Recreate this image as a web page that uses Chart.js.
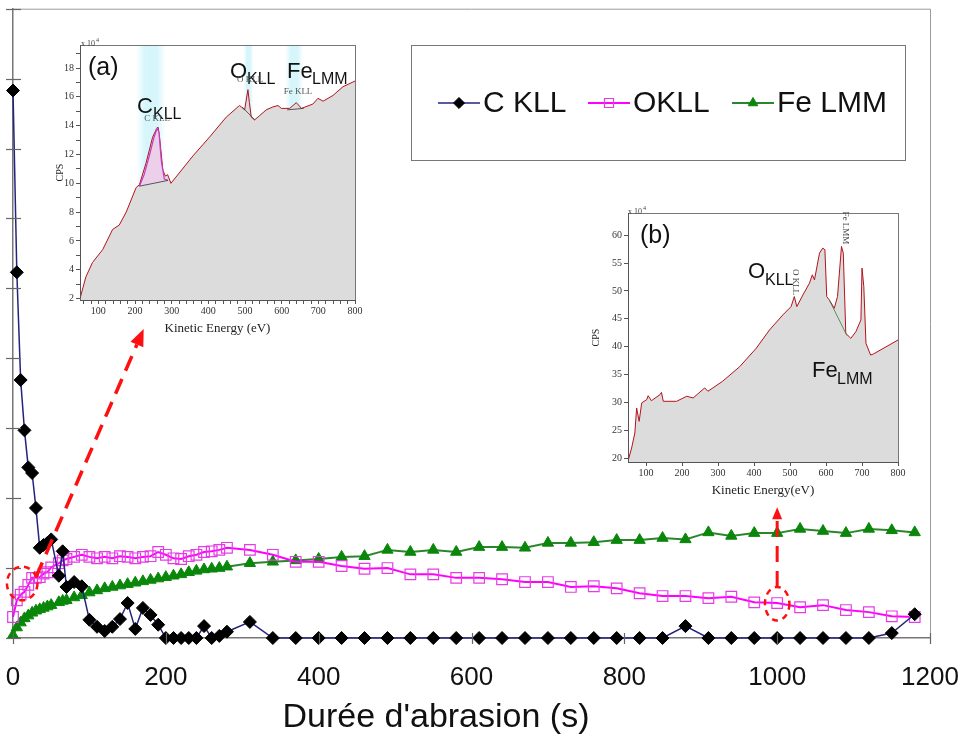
<!DOCTYPE html>
<html>
<head>
<meta charset="utf-8">
<script src="https://cdn.jsdelivr.net/npm/chart.js@4.4.0/dist/chart.umd.min.js"></script>
<style>
    html, body { margin: 0; padding: 0; background: #fff; }
    #cadre { position: relative; width: 958px; height: 744px; }
    #cadre canvas { position: absolute; }
</style>
</head>
<body>
<div id="cadre">
    <canvas id="principal" width="958" height="744" style="left:0;top:0"></canvas>
    <canvas id="encartA" width="310" height="306" style="left:54px;top:30px"></canvas>
    <canvas id="encartB" width="318" height="300" style="left:590px;top:198px"></canvas>
</div>
<script>
// ========== DONNÉES ==========
// temps d'abrasion (s), commun aux trois séries
const temps = [0, 5, 10, 15, 20, 25, 30, 35, 40, 45, 50, 60, 65, 70,
    80, 90, 100, 110, 120, 130, 140, 150, 160, 170, 180, 190, 200, 210, 220, 230, 240, 250, 260, 270, 280,
    310, 340, 370, 400, 430, 460, 490, 520, 550, 580, 610, 640, 670, 700, 730, 760, 790, 820, 850, 880,
    910, 940, 970, 1000, 1030, 1060, 1090, 1120, 1150, 1180];

const cKLL = [7.83, 5.23, 3.69, 2.97, 2.44, 2.36, 1.86, 1.29, 1.33, 1.36, 1.41, 0.89, 1.24, 0.73,
    0.80, 0.74, 0.26, 0.16, 0.10, 0.16, 0.27, 0.50, 0.13, 0.43, 0.33, 0.19, 0, 0, 0, 0, 0, 0.17, 0, 0.03, 0.09,
    0.23, 0, 0, 0, 0, 0, 0, 0, 0, 0, 0, 0, 0, 0, 0, 0, 0, 0, 0, 0.17,
    0, 0, 0, 0, 0, 0, 0, 0, 0.07, 0.34];

const oKLL = [0.30, 0.54, 0.62, 0.66, 0.76, 0.86, 0.86, 0.87, 0.92, 0.94, 1.01, 1.07, 1.11, 1.13,
    1.16, 1.19, 1.16, 1.14, 1.16, 1.14, 1.17, 1.16, 1.14, 1.16, 1.17, 1.23, 1.19, 1.14, 1.13, 1.17, 1.19, 1.23, 1.24, 1.26, 1.29,
    1.26, 1.19, 1.09, 1.09, 1.03, 0.99, 1.00, 0.91, 0.91, 0.86, 0.86, 0.84, 0.80, 0.80, 0.73, 0.74, 0.71, 0.64, 0.60, 0.60,
    0.57, 0.59, 0.51, 0.50, 0.44, 0.47, 0.40, 0.37, 0.31, 0.30];

const feLMM = [0.04, 0.15, 0.22, 0.28, 0.32, 0.36, 0.39, 0.41, 0.43, 0.45, 0.47, 0.51, 0.53, 0.54,
    0.58, 0.61, 0.65, 0.68, 0.71, 0.73, 0.75, 0.77, 0.79, 0.81, 0.83, 0.85, 0.87, 0.89, 0.91, 0.94, 0.96, 0.98, 0.99, 1.00, 1.02,
    1.07, 1.09, 1.11, 1.13, 1.16, 1.17, 1.26, 1.23, 1.26, 1.23, 1.30, 1.30, 1.29, 1.36, 1.36, 1.37, 1.40, 1.40, 1.43, 1.41,
    1.51, 1.46, 1.50, 1.50, 1.56, 1.53, 1.50, 1.56, 1.54, 1.51];

const graduationsX = [0, 200, 400, 600, 800, 1000, 1200];
const graduationsY = [0, 1, 2, 3, 4, 5, 6, 7, 8, 9];
const titreX = "Durée d'abrasion (s)";

// spectre (a) : énergie cinétique (eV) / CPS (x 10^4)
const energieA = [50, 66, 84, 112, 139, 157, 176, 203, 212, 230, 248, 259, 263, 267, 276, 283, 289, 298, 358, 403,
    449, 485, 490, 499, 508, 512, 517, 526, 540, 558, 576, 590, 599, 622, 640, 654, 685, 699, 713, 740, 767, 800];
const cpsA = [2.0, 3.5, 4.5, 5.4, 6.8, 7.1, 8.0, 9.7, 9.9, 11.4, 13.2, 13.8, 13.9, 13.2, 10.9, 10.5, 10.6, 10.0, 11.9, 13.2,
    14.6, 15.4, 15.3, 15.1, 16.5, 15.6, 14.6, 14.4, 14.7, 15.1, 15.3, 15.4, 15.2, 15.2, 15.6, 15.2, 15.5, 15.9, 15.7, 16.1, 16.7, 17.1];
const picCA_E = [212, 225, 240, 252, 260, 265, 272, 280, 290];
const picCA_I = [9.8, 10.6, 12.0, 13.2, 13.8, 13.6, 11.5, 10.3, 10.2];
const fondCA_E = [212, 290];
const fondCA_I = [9.8, 10.2];
const fondOA_E = [492, 527];
const fondOA_I = [15.3, 14.4];
const fondFeA_E = [615, 660];
const fondFeA_I = [15.1, 15.2];
const ticksXA = [60, 80, 100, 120, 140, 160, 180, 200, 220, 240, 260, 280, 300, 320, 340, 360, 380, 400,
    420, 440, 460, 480, 500, 520, 540, 560, 580, 600, 620, 640, 660, 680, 700, 720, 740, 760, 780, 800];
const ticksYA = [2, 3, 4, 5, 6, 7, 8, 9, 10, 11, 12, 13, 14, 15, 16, 17, 18, 19];

// spectre (b)
const energieB = [51, 60, 69, 74, 81, 88, 102, 106, 115, 139, 143, 148, 185, 213, 231, 263, 272, 313, 360, 406,
    443, 480, 503, 512, 519, 536, 554, 562, 568, 582, 591, 597, 602, 609, 623, 632, 643, 648, 655, 669,
    683, 697, 700, 705, 711, 724, 732, 800];
const cpsB = [19.7, 21.8, 24.5, 29.0, 26.6, 29.9, 30.5, 31.2, 30.3, 31.4, 31.8, 30.2, 30.2, 31.1, 30.8, 32.6, 32.0, 33.8, 36.4, 39.7,
    43.0, 45.7, 47.2, 49.0, 47.2, 49.3, 51.4, 52.9, 52.0, 56.8, 57.7, 57.4, 49.0, 48.4, 46.9, 49.0, 58.0, 56.8, 42.4, 41.5,
    42.7, 44.8, 54.1, 50.8, 40.6, 38.5, 38.7, 41.2];
const fondFeB_E = [609, 658];
const fondFeB_I = [48.4, 42.0];
const ticksXB = [100, 200, 300, 400, 500, 600, 700, 800];
const ticksYB = [20, 25, 30, 35, 40, 45, 50, 55, 60];

const pts = (xs, ys) => xs.map((x, i) => ({ x, y: ys[i] }));

const POLICE = '"Liberation Sans", Arial, sans-serif';
const SERIF = '"Liberation Serif", "Times New Roman", serif';

// ========== GRAPHIQUE PRINCIPAL ==========
function fleche(ctx, x1, y1, x2, y2, tete, demi) {
    const ang = Math.atan2(y2 - y1, x2 - x1);
    const bx = x2 - Math.cos(ang) * tete, by = y2 - Math.sin(ang) * tete;
    ctx.setLineDash([16, 9]);
    ctx.beginPath(); ctx.moveTo(x1, y1); ctx.lineTo(bx, by); ctx.stroke();
    ctx.setLineDash([]);
    ctx.beginPath();
    ctx.moveTo(x2, y2);
    ctx.lineTo(bx + demi * Math.sin(ang), by - demi * Math.cos(ang));
    ctx.lineTo(bx - demi * Math.sin(ang), by + demi * Math.cos(ang));
    ctx.closePath(); ctx.fill();
}

function ellipse(ctx, x, y, cx, cy, rx, ry) {
    const px = x.getPixelForValue(cx), py = y.getPixelForValue(cy);
    const rpx = Math.abs(x.getPixelForValue(cx + rx) - px), rpy = Math.abs(y.getPixelForValue(cy + ry) - py);
    ctx.setLineDash([6, 5]);
    ctx.beginPath(); ctx.ellipse(px, py, rpx, rpy, 0, 0, Math.PI * 2); ctx.stroke();
    ctx.setLineDash([]);
}

const decorPrincipal = {
    id: 'decorPrincipal',
    afterDatasetsDraw(chart) {
        const { ctx, chartArea: a, scales: { x, y } } = chart;
        ctx.save();
        // cadre de la zone de tracé
        ctx.strokeStyle = '#9a9a9a'; ctx.lineWidth = 1;
        ctx.beginPath();
        ctx.moveTo(a.left, a.top + 0.5); ctx.lineTo(a.right + 0.5, a.top + 0.5); ctx.lineTo(a.right + 0.5, a.bottom);
        ctx.stroke();
        // graduations traversantes
        ctx.strokeStyle = '#666'; ctx.lineWidth = 1.2;
        y.ticks.forEach(t => {
            const py = Math.round(y.getPixelForValue(t.value)) + 0.5;
            ctx.beginPath(); ctx.moveTo(a.left - 7, py); ctx.lineTo(a.left + 8, py); ctx.stroke();
        });
        x.ticks.forEach(t => {
            const px = Math.round(x.getPixelForValue(t.value)) + 0.5;
            ctx.beginPath(); ctx.moveTo(px, a.bottom - 5); ctx.lineTo(px, a.bottom + 6); ctx.stroke();
        });
        // annotations rouges
        ctx.strokeStyle = '#ff1010'; ctx.fillStyle = '#ff1010'; ctx.lineWidth = 3.5;
        fleche(ctx, x.getPixelForValue(30), y.getPixelForValue(0.87), x.getPixelForValue(171), y.getPixelForValue(4.42), 17, 7);
        ctx.lineWidth = 3;
        fleche(ctx, x.getPixelForValue(1000), y.getPixelForValue(0.73), x.getPixelForValue(1000), y.getPixelForValue(1.87), 12, 5);
        ctx.lineWidth = 2.5;
        ellipse(ctx, x, y, 12, 0.78, 20, 0.24);
        ellipse(ctx, x, y, 1000, 0.49, 16, 0.24);
        ctx.restore();
    },
    afterDraw(chart) {
        const ctx = chart.ctx;
        ctx.save();
        // titre de l'axe des abscisses (décalé vers la gauche comme l'original)
        ctx.fillStyle = '#111'; ctx.font = '34px ' + POLICE;
        ctx.textAlign = 'center'; ctx.textBaseline = 'middle';
        ctx.fillText(titreX, 436, 718);
        // légende
        ctx.textAlign = 'left';
        ctx.strokeStyle = '#777'; ctx.lineWidth = 1;
        ctx.strokeRect(411.5, 45.5, 494, 115);
        const yc = 103;
        const items = [
            { x0: 438, label: 'C KLL', ds: chart.data.datasets[0] },
            { x0: 588, label: 'OKLL', ds: chart.data.datasets[1] },
            { x0: 732, label: 'Fe LMM', ds: chart.data.datasets[2] }
        ];
        items.forEach(it => {
            ctx.strokeStyle = it.ds.borderColor; ctx.lineWidth = it.ds.borderWidth;
            ctx.beginPath(); ctx.moveTo(it.x0, yc); ctx.lineTo(it.x0 + 42, yc); ctx.stroke();
            ctx.fillStyle = it.ds.pointBackgroundColor; ctx.strokeStyle = it.ds.pointBorderColor;
            ctx.lineWidth = it.ds.pointBorderWidth;
            Chart.helpers.drawPoint(ctx, { pointStyle: it.ds.pointStyle, radius: it.ds.pointRadius * 0.85, rotation: 0, borderWidth: it.ds.pointBorderWidth }, it.x0 + 21, yc);
            ctx.fillStyle = '#111'; ctx.font = '30px ' + POLICE; ctx.textBaseline = 'middle';
            ctx.fillText(it.label, it.x0 + 45, yc + 1);
        });
        ctx.restore();
    }
};

new Chart(document.getElementById('principal'), {
    type: 'line',
    data: {
        datasets: [
            {
                label: 'C KLL', data: pts(temps, cKLL),
                borderColor: '#23237e', borderWidth: 1.5,
                pointStyle: 'rectRot', pointRadius: 6.5, pointBackgroundColor: '#000', pointBorderColor: '#000', pointBorderWidth: 1,
                clip: false
            },
            {
                label: 'OKLL', data: pts(temps, oKLL),
                borderColor: '#ff00ff', borderWidth: 2,
                pointStyle: 'rect', pointRadius: 7.5, pointBackgroundColor: 'rgba(255,255,255,0)', pointBorderColor: '#e63ce6', pointBorderWidth: 1.2,
                clip: false
            },
            {
                label: 'Fe LMM', data: pts(temps, feLMM),
                borderColor: '#2b862b', borderWidth: 2,
                pointStyle: 'triangle', pointRadius: 6.5, pointBackgroundColor: '#0a870a', pointBorderColor: '#0a870a', pointBorderWidth: 1,
                clip: false
            }
        ]
    },
    options: {
        responsive: false, animation: false,
        layout: { padding: { top: 8, right: 28, left: 0, bottom: 0 } },
        plugins: { legend: { display: false }, tooltip: { enabled: false } },
        scales: {
            x: {
                type: 'linear', min: graduationsX[0], max: graduationsX[graduationsX.length - 1],
                afterBuildTicks: s => { s.ticks = graduationsX.map(v => ({ value: v })); },
                ticks: { color: '#111', font: { family: POLICE, size: 26 }, padding: 24, maxRotation: 0, callback: v => String(v) },
                grid: { drawOnChartArea: false, drawTicks: false },
                border: { color: '#777', width: 1.5 },
                afterFit: s => { s.height = 106; s.paddingLeft = 0; s.paddingRight = 0; }
            },
            y: {
                min: graduationsY[0], max: graduationsY[graduationsY.length - 1],
                afterBuildTicks: s => { s.ticks = graduationsY.map(v => ({ value: v })); },
                ticks: { display: false },
                grid: { drawOnChartArea: false, drawTicks: false },
                border: { color: '#777', width: 1.5 },
                afterFit: s => { s.width = 13; }
            }
        }
    },
    plugins: [decorPrincipal]
});

// ========== ENCARTS (SPECTRES) ==========
function pluginEncart(id, dx, dy, bandes, textes) {
    return {
        id,
        beforeDraw(chart) {
            const { ctx, chartArea: a, scales: { x } } = chart;
            ctx.save();
            bandes.forEach(([e1, e2]) => {
                const x1 = x.getPixelForValue(e1), x2 = x.getPixelForValue(e2);
                const g = ctx.createLinearGradient(x1, 0, x2, 0);
                g.addColorStop(0, 'rgba(214,246,252,0)');
                g.addColorStop(0.3, 'rgba(214,246,252,1)');
                g.addColorStop(0.7, 'rgba(214,246,252,1)');
                g.addColorStop(1, 'rgba(214,246,252,0)');
                ctx.fillStyle = g;
                ctx.fillRect(x1, a.top, x2 - x1, a.bottom - a.top);
            });
            ctx.restore();
        },
        afterDraw(chart) {
            const { ctx, chartArea: a } = chart;
            ctx.save();
            ctx.strokeStyle = '#555'; ctx.lineWidth = 0.8;
            ctx.strokeRect(a.left + 0.5, a.top + 0.5, a.right - a.left, a.bottom - a.top);
            textes.forEach(t => {
                ctx.save();
                ctx.font = t.f; ctx.fillStyle = t.c || '#111';
                ctx.textAlign = t.al || 'left'; ctx.textBaseline = t.b || 'alphabetic';
                ctx.translate(t.x - dx, t.y - dy);
                if (t.r) ctx.rotate(t.r);
                ctx.fillText(t.t, 0, 0);
                ctx.restore();
            });
            ctx.restore();
        }
    };
}

function echelles(xmin, xmax, ticksX, xlab, ymin, ymax, ticksY, ylab, titre, largeurY) {
    return {
        x: {
            type: 'linear', min: xmin, max: xmax,
            afterBuildTicks: s => { s.ticks = ticksX.map(v => ({ value: v })); },
            ticks: { autoSkip: false, maxRotation: 0, padding: 1, color: '#333', font: { family: SERIF, size: 10 },
                callback: v => (v % xlab === 0 ? v : '') },
            grid: { drawOnChartArea: false, tickLength: 4, color: '#555' },
            border: { color: '#555' },
            title: { display: true, text: titre, color: '#222', font: { family: SERIF, size: 13 }, padding: 0 },
            afterFit: s => { s.height = 36; s.paddingLeft = 0; s.paddingRight = 0; }
        },
        y: {
            min: ymin, max: ymax,
            afterBuildTicks: s => { s.ticks = ticksY.map(v => ({ value: v })); },
            ticks: { autoSkip: false, padding: 2, color: '#333', font: { family: SERIF, size: 10 },
                callback: v => (v % ylab === 0 ? v : '') },
            grid: { drawOnChartArea: false, tickLength: 4, color: '#555' },
            border: { color: '#555' },
            title: { display: true, text: 'CPS', color: '#222', font: { family: SERIF, size: 10 }, padding: 0 },
            afterFit: s => { s.width = largeurY; s.paddingTop = 0; s.paddingBottom = 0; }
        }
    };
}

const ligneSpectre = { borderColor: '#b3121b', borderWidth: 1, pointRadius: 0, fill: 'start', backgroundColor: '#dcdcdc', tension: 0 };

new Chart(document.getElementById('encartA'), {
    type: 'line',
    data: {
        datasets: [
            { data: pts(fondCA_E, fondCA_I), borderColor: '#333', borderWidth: 0.8, pointRadius: 0 },
            { data: pts(fondOA_E, fondOA_I), borderColor: '#333', borderWidth: 0.8, pointRadius: 0 },
            { data: pts(fondFeA_E, fondFeA_I), borderColor: '#333', borderWidth: 0.8, pointRadius: 0 },
            { data: pts(picCA_E, picCA_I), borderColor: '#c23cc2', borderWidth: 1.2, pointRadius: 0,
              fill: { target: 0 }, backgroundColor: 'rgba(236,206,232,0.95)' },
            Object.assign({ data: pts(energieA, cpsA) }, ligneSpectre)
        ]
    },
    options: {
        responsive: false, animation: false,
        layout: { padding: { top: 15, right: 9, left: 0, bottom: 0 } },
        plugins: { legend: { display: false }, tooltip: { enabled: false } },
        scales: echelles(50, 800, ticksXA, 100, 1.9, 19.6, ticksYA, 2, 'Kinetic Energy (eV)', 26)
    },
    plugins: [pluginEncart('encA', 54, 30, [[203, 284], [497, 522], [610, 658]], [
        { t: '(a)', f: '25px ' + POLICE, x: 88, y: 68, b: 'middle' },
        { t: 'x 10', f: '8px ' + SERIF, x: 81, y: 46, c: '#444' },
        { t: '4', f: '6px ' + SERIF, x: 96, y: 42, c: '#444' },
        { t: 'C', f: '22px ' + POLICE, x: 137, y: 113 },
        { t: 'KLL', f: '16px ' + POLICE, x: 153, y: 119 },
        { t: 'C KLL', f: '9px ' + SERIF, x: 157, y: 121, al: 'center', c: '#555' },
        { t: 'O', f: '22px ' + POLICE, x: 230, y: 78 },
        { t: 'KLL', f: '16px ' + POLICE, x: 247, y: 84 },
        { t: 'O KLL', f: '9px ' + SERIF, x: 250, y: 82, al: 'center', c: '#555' },
        { t: 'Fe', f: '22px ' + POLICE, x: 287, y: 78 },
        { t: 'LMM', f: '16px ' + POLICE, x: 312, y: 84 },
        { t: 'Fe KLL', f: '9px ' + SERIF, x: 298, y: 94, al: 'center', c: '#555' }
    ])]
});

new Chart(document.getElementById('encartB'), {
    type: 'line',
    data: {
        datasets: [
            { data: pts(fondFeB_E, fondFeB_I), borderColor: '#3a7d3a', borderWidth: 0.8, pointRadius: 0 },
            Object.assign({ data: pts(energieB, cpsB) }, ligneSpectre)
        ]
    },
    options: {
        responsive: false, animation: false,
        layout: { padding: { top: 15, right: 10, left: 0, bottom: 0 } },
        plugins: { legend: { display: false }, tooltip: { enabled: false } },
        scales: echelles(50, 800, ticksXB, 100, 19.3, 64, ticksYB, 5, 'Kinetic Energy(eV)', 38)
    },
    plugins: [pluginEncart('encB', 590, 198, [], [
        { t: '(b)', f: '25px ' + POLICE, x: 640, y: 236, b: 'middle' },
        { t: 'x 10', f: '8px ' + SERIF, x: 628, y: 214, c: '#444' },
        { t: '4', f: '6px ' + SERIF, x: 643, y: 210, c: '#444' },
        { t: 'O', f: '22px ' + POLICE, x: 748, y: 278 },
        { t: 'KLL', f: '16px ' + POLICE, x: 765, y: 285 },
        { t: 'O KLL', f: '9px ' + SERIF, x: 795, y: 282, al: 'center', b: 'middle', r: Math.PI / 2, c: '#444' },
        { t: 'Fe LMM', f: '9px ' + SERIF, x: 845, y: 228, al: 'center', b: 'middle', r: Math.PI / 2, c: '#444' },
        { t: 'Fe', f: '22px ' + POLICE, x: 812, y: 377 },
        { t: 'LMM', f: '16px ' + POLICE, x: 837, y: 384 }
    ])]
});
</script>
</body>
</html>
